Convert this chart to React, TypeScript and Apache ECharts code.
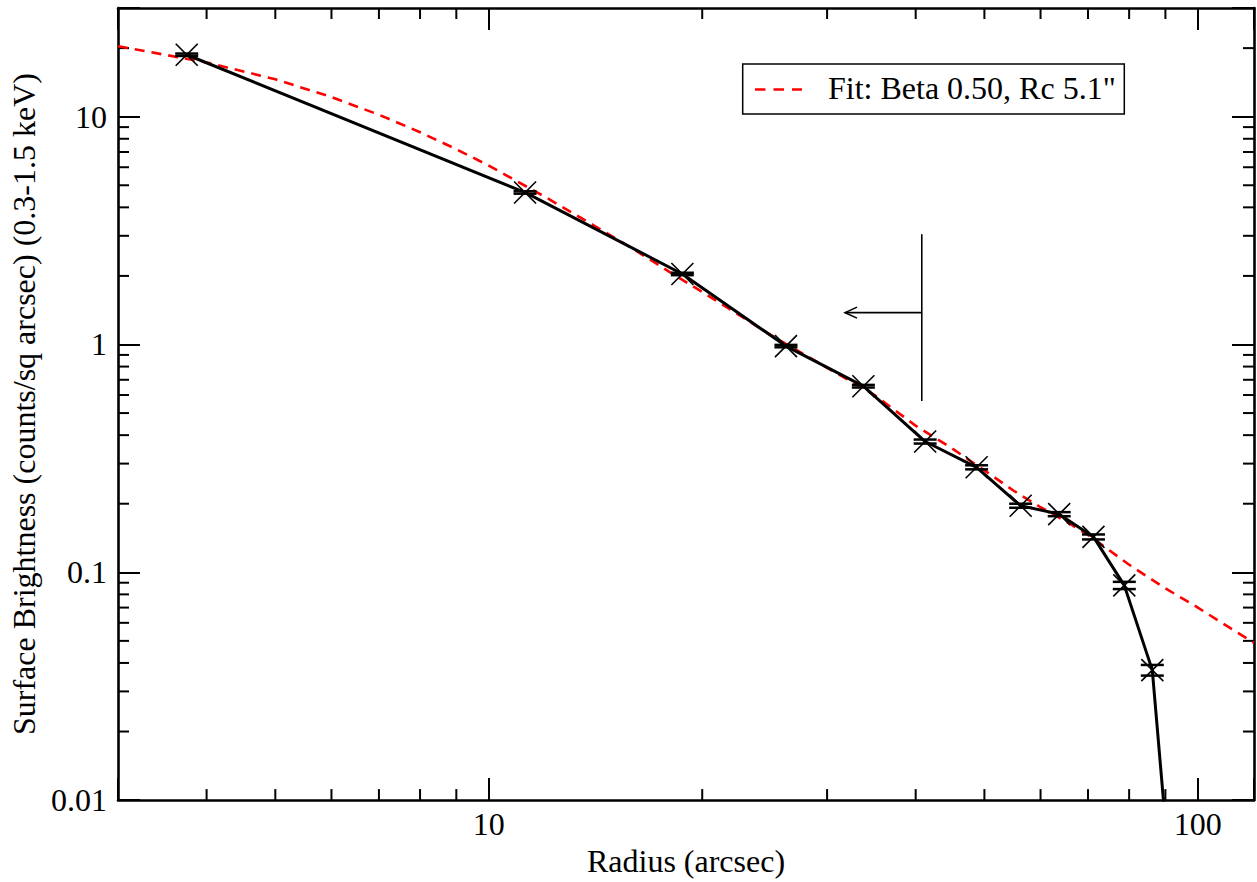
import React, { useEffect, useRef } from "react";
import * as echarts from "echarts";

// ---- data ----
const radius = [3.75, 11.25, 18.75, 26.25, 33.75, 41.25, 48.75, 56.25, 63.75, 71.25, 78.75, 86.25, 93.75];
const brightness = [18.7, 4.65, 2.04, 0.984, 0.656, 0.375, 0.289, 0.196, 0.18, 0.143, 0.0876, 0.0372, 0.0018];
const brightnessErr = [0.23, 0.057, 0.025, 0.012, 0.0087, 0.0076, 0.0059, 0.004, 0.0037, 0.0036, 0.0032, 0.002, 0.0008];

const fitRadius = [3, 4, 5, 6, 7, 8, 9, 10, 12, 14, 16, 18, 20, 25, 30, 35, 40, 45, 50, 55, 60, 65, 70, 80, 90, 100, 110, 120];
const fitBrightness = [20.4, 17.3, 14.6, 12.2, 10.2, 8.55, 7.2, 6.1, 4.45, 3.36, 2.62, 2.08, 1.7, 1.1, 0.79, 0.6, 0.44, 0.35, 0.28, 0.228, 0.193, 0.168, 0.146, 0.108, 0.085, 0.07, 0.058, 0.049];

const fitLabel = 'Fit: Beta 0.50, Rc 5.1"';
const xAxisTitle = "Radius (arcsec)";
const yAxisTitle = "Surface Brightness (counts/sq arcsec) (0.3-1.5 keV)";

const X_MIN = 3;
const X_MAX = 120;
const Y_MIN = 0.01;
const Y_MAX = 30;

const xMajorTicks = [10, 100];
const xTickLabels = ["10", "100"];
const xMinorTicks = [4, 5, 6, 7, 8, 9, 20, 30, 40, 50, 60, 70, 80, 90];
const yMajorTicks = [0.01, 0.1, 1, 10];
const yTickLabels = ["0.01", "0.1", "1", "10"];
const yMinorTicks = [0.02, 0.03, 0.04, 0.05, 0.06, 0.07, 0.08, 0.09, 0.2, 0.3, 0.4, 0.5, 0.6, 0.7, 0.8, 0.9, 2, 3, 4, 5, 6, 7, 8, 9, 20];

// cutoff annotation (radius, low, high, arrow level, arrow tip)
const cutoffRadius = 40.8;
const cutoffLow = 0.565;
const cutoffHigh = 3.05;
const arrowLevel = 1.38;
const arrowTip = 31.8;

const FONT = "'Liberation Serif', 'Times New Roman', Times, serif";

function labelFormatter(values: number[], labels: string[]) {
  return (v: number) => {
    for (let i = 0; i < values.length; i++) {
      if (Math.abs(v - values[i]) / values[i] < 1e-6) return labels[i];
    }
    return "";
  };
}

export default function App() {
  const ref = useRef<HTMLDivElement>(null);

  useEffect(() => {
    document.body.style.margin = "0";
    if (!ref.current) return;
    const chart = echarts.init(ref.current, undefined, { renderer: "svg" });

    const axisLine = { show: true, lineStyle: { color: "#000", width: 2.6 } };
    const majorTick = { show: true, inside: true, length: 22, lineStyle: { color: "#000", width: 2 } };
    const tickStyle = { stroke: "#000", lineWidth: 2 };
    const MINOR = 11;

    const option: any = {
      animation: false,
      backgroundColor: "#fff",
      textStyle: { fontFamily: FONT },
      grid: { left: 118, right: 2, top: 8, bottom: 79, containLabel: false },
      xAxis: [
        {
          type: "log",
          logBase: 10,
          min: X_MIN,
          max: X_MAX,
          position: "bottom",
          axisLine,
          axisTick: majorTick,
          splitLine: { show: false },
          axisLabel: {
            color: "#000",
            fontSize: 32,
            fontFamily: FONT,
            margin: 8,
            formatter: labelFormatter(xMajorTicks, xTickLabels),
          },
          name: xAxisTitle,
          nameLocation: "middle",
          nameGap: 40,
          nameTextStyle: { color: "#000", fontSize: 32, fontFamily: FONT },
        },
        {
          type: "log",
          logBase: 10,
          min: X_MIN,
          max: X_MAX,
          position: "top",
          axisLine,
          axisTick: majorTick,
          splitLine: { show: false },
          axisLabel: { show: false },
        },
      ],
      yAxis: [
        {
          type: "log",
          logBase: 10,
          min: Y_MIN,
          max: Y_MAX,
          position: "left",
          axisLine,
          axisTick: majorTick,
          splitLine: { show: false },
          axisLabel: {
            color: "#000",
            fontSize: 32,
            fontFamily: FONT,
            margin: 11,
            formatter: labelFormatter(yMajorTicks, yTickLabels),
          },
          name: yAxisTitle,
          nameLocation: "middle",
          nameGap: 76,
          nameTextStyle: { color: "#000", fontSize: 32, fontFamily: FONT },
        },
        {
          type: "log",
          logBase: 10,
          min: Y_MIN,
          max: Y_MAX,
          position: "right",
          axisLine,
          axisTick: majorTick,
          splitLine: { show: false },
          axisLabel: { show: false },
        },
      ],
      series: [
        {
          name: "xMinor",
          type: "custom",
          silent: true,
          data: xMinorTicks.map((v) => [v, Y_MIN]),
          renderItem: (_p: any, api: any) => {
            const v = api.value(0);
            const b = api.coord([v, Y_MIN]);
            const t = api.coord([v, Y_MAX]);
            return {
              type: "group",
              children: [
                { type: "line", shape: { x1: b[0], y1: b[1], x2: b[0], y2: b[1] - MINOR }, style: tickStyle },
                { type: "line", shape: { x1: t[0], y1: t[1], x2: t[0], y2: t[1] + MINOR }, style: tickStyle },
              ],
            };
          },
        },
        {
          name: "yMinor",
          type: "custom",
          silent: true,
          data: yMinorTicks.map((v) => [X_MIN, v]),
          renderItem: (_p: any, api: any) => {
            const v = api.value(1);
            const l = api.coord([X_MIN, v]);
            const r = api.coord([X_MAX, v]);
            return {
              type: "group",
              children: [
                { type: "line", shape: { x1: l[0], y1: l[1], x2: l[0] + MINOR, y2: l[1] }, style: tickStyle },
                { type: "line", shape: { x1: r[0], y1: r[1], x2: r[0] - MINOR, y2: r[1] }, style: tickStyle },
              ],
            };
          },
        },
        {
          name: fitLabel,
          type: "line",
          data: fitRadius.map((r, i) => [r, fitBrightness[i]]),
          symbol: "none",
          showSymbol: false,
          clip: true,
          z: 2,
          lineStyle: { color: "#ff0000", width: 2.6, type: [10, 7] },
        },
        {
          name: "profile",
          type: "line",
          data: radius.map((r, i) => [r, brightness[i]]),
          symbol: "none",
          showSymbol: false,
          clip: true,
          z: 3,
          lineStyle: { color: "#000", width: 3 },
        },
        {
          name: "errors",
          type: "custom",
          silent: true,
          clip: true,
          z: 4,
          data: radius.map((r, i) => [r, brightness[i], brightnessErr[i]]),
          renderItem: (_p: any, api: any) => {
            const r = api.value(0);
            const s = api.value(1);
            const e = api.value(2);
            const c = api.coord([r, s]);
            const hi = api.coord([r, s + e]);
            const lo = api.coord([r, Math.max(s - e, 1e-6)]);
            const w = 11.5;
            const m = 11;
            const capStyle = { stroke: "#000", lineWidth: 2.5 };
            const xStyle = { stroke: "#000", lineWidth: 1.6 };
            return {
              type: "group",
              children: [
                { type: "line", shape: { x1: c[0] - w, y1: hi[1], x2: c[0] + w, y2: hi[1] }, style: capStyle },
                { type: "line", shape: { x1: c[0] - w, y1: lo[1], x2: c[0] + w, y2: lo[1] }, style: capStyle },
                { type: "line", shape: { x1: c[0], y1: hi[1], x2: c[0], y2: lo[1] }, style: xStyle },
                { type: "line", shape: { x1: c[0] - m, y1: c[1] - m, x2: c[0] + m, y2: c[1] + m }, style: xStyle },
                { type: "line", shape: { x1: c[0] - m, y1: c[1] + m, x2: c[0] + m, y2: c[1] - m }, style: xStyle },
              ],
            };
          },
        },
        {
          name: "cutoff",
          type: "custom",
          silent: true,
          z: 4,
          data: [[cutoffRadius, arrowLevel, cutoffLow, cutoffHigh, arrowTip]],
          renderItem: (_p: any, api: any) => {
            const rx = api.value(0);
            const lvl = api.value(1);
            const low = api.value(2);
            const high = api.value(3);
            const tipR = api.value(4);
            const top = api.coord([rx, high]);
            const bot = api.coord([rx, low]);
            const mid = api.coord([rx, lvl]);
            const tip = api.coord([tipR, lvl]);
            const st = { stroke: "#000", lineWidth: 1.6 };
            return {
              type: "group",
              children: [
                { type: "line", shape: { x1: top[0], y1: top[1], x2: bot[0], y2: bot[1] }, style: st },
                { type: "line", shape: { x1: mid[0], y1: mid[1], x2: tip[0], y2: tip[1] }, style: st },
                {
                  type: "polyline",
                  shape: { points: [[tip[0] + 12, tip[1] - 5.5], [tip[0], tip[1]], [tip[0] + 12, tip[1] + 5.5]] },
                  style: { stroke: "#000", lineWidth: 1.6, fill: "none" },
                },
              ],
            };
          },
        },
      ],
      graphic: [
        {
          type: "rect",
          z: 100,
          shape: { x: 742.7, y: 64, width: 381.6, height: 50 },
          style: { fill: "#fff", stroke: "#000", lineWidth: 1.5 },
        },
        {
          type: "line",
          z: 101,
          shape: { x1: 755, y1: 89.5, x2: 802, y2: 89.5 },
          style: { stroke: "#ff0000", lineWidth: 2.6, lineDash: [10.5, 8] },
        },
        {
          type: "text",
          z: 101,
          x: 828,
          y: 87.5,
          style: {
            text: fitLabel,
            fontSize: 32,
            fontFamily: FONT,
            fill: "#000",
            verticalAlign: "middle",
            align: "left",
          },
        },
      ],
    };

    chart.setOption(option);
    return () => {
      chart.dispose();
    };
  }, []);

  return <div ref={ref} style={{ width: 1257, height: 882 }} />;
}
